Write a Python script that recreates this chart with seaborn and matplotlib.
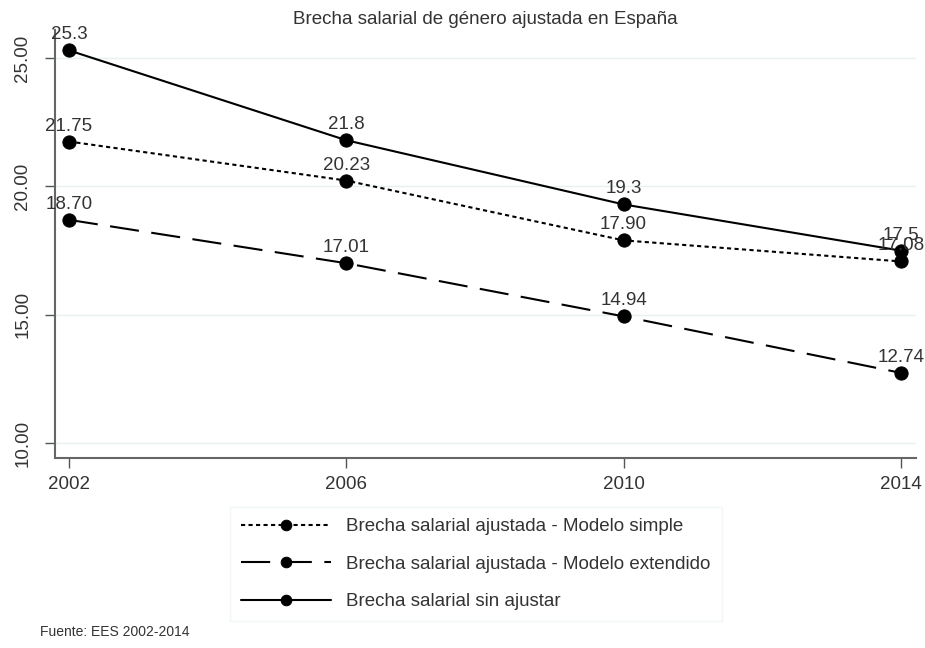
import matplotlib
matplotlib.use('Agg')
import matplotlib.pyplot as plt
import seaborn as sns
import pandas as pd

# Data
years = [2002, 2006, 2010, 2014]
simple = [21.75, 20.23, 17.90, 17.08]
extendido = [18.70, 17.01, 14.94, 12.74]
sin_ajustar = [25.3, 21.8, 19.3, 17.5]

lbl_simple = ['21.75', '20.23', '17.90', '17.08']
lbl_ext = ['18.70', '17.01', '14.94', '12.74']
lbl_sin = ['25.3', '21.8', '19.3', '17.5']

names = ['Brecha salarial ajustada - Modelo simple',
         'Brecha salarial ajustada - Modelo extendido',
         'Brecha salarial sin ajustar']

df = pd.DataFrame({
    'year': years * 3,
    'value': simple + extendido + sin_ajustar,
    'serie': [names[0]] * 4 + [names[1]] * 4 + [names[2]] * 4,
})

sns.set_style('white')
plt.rcParams['font.family'] = ['Liberation Sans', 'DejaVu Sans']

fig = plt.figure(figsize=(9.25, 6.48), dpi=100)
ax = fig.add_axes([0.0595, 0.293, 0.931, 0.661])

dashes = {names[0]: (2, 1.6), names[1]: (14, 6), names[2]: ''}
sns.lineplot(data=df, x='year', y='value', hue='serie', style='serie',
             dashes=dashes, palette=['black'] * 3, marker='o', markersize=9.5,
             markeredgecolor='black', linewidth=1.5, ax=ax, legend=True)

# Value labels
for vals, labs in [(simple, lbl_simple), (extendido, lbl_ext), (sin_ajustar, lbl_sin)]:
    for x, y, t in zip(years, vals, labs):
        ax.annotate(t, (x, y), xytext=(0, 5), textcoords='offset points',
                    ha='center', va='bottom', fontsize=13.5, color='#333333')

ax.set_xlim(2001.8, 2014.22)
ax.set_ylim(9.42, 26.1)
ax.set_xticks(years)
ax.set_yticks([10, 15, 20, 25])
ax.set_yticklabels(['10.00', '15.00', '20.00', '25.00'], rotation=90, va='center')
ax.tick_params(axis='both', which='major', direction='out', length=7, width=1,
               color='#555555', labelsize=13.5, labelcolor='#333333', left=True, bottom=True)
ax.tick_params(axis='y', pad=10)
ax.tick_params(axis='x', pad=6)
ax.grid(axis='y', color='#e6f2f2', linewidth=1)
ax.set_xlabel('')
ax.set_ylabel('')
for s in ['top', 'right']:
    ax.spines[s].set_visible(False)
for s in ['left', 'bottom']:
    ax.spines[s].set_color('#666666')
    ax.spines[s].set_linewidth(1.5)

ax.set_title('Brecha salarial de género ajustada en España', fontsize=13.5,
             color='#333333', pad=4)

leg = ax.legend(loc='upper left', bbox_to_anchor=(0.203, -0.114), frameon=True,
                fontsize=13.5, handlelength=4.8, handletextpad=0.8,
                labelspacing=1.08, borderpad=0.6, borderaxespad=0,
                markerscale=0.8, fancybox=False, edgecolor='#eef4f4')
for t in leg.get_texts():
    t.set_color('#333333')

fig.text(0.043, 0.018, 'Fuente: EES 2002-2014', fontsize=10, color='#333333')

plt.savefig('out.png', dpi=100)
